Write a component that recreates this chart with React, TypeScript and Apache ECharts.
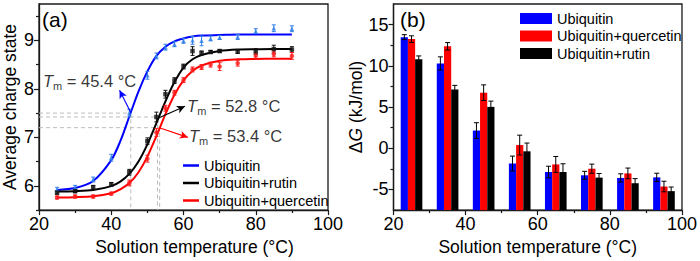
import React, { useEffect, useRef } from "react";
import * as echarts from "echarts";

// ---------- Panel (a): average charge state ----------
const tempPoints = [25, 30, 35, 40, 45, 50, 52.5, 55, 57.5, 60, 62.5, 65, 67.5, 70, 75, 80, 85, 90];
const ubiPoints = [5.93, 5.97, 6.13, 6.58, 7.5, 8.28, 8.68, 8.86, 8.92, 8.99, 9.0, 8.99, 9.04, 9.06, 9.07, 9.19, 9.25, 9.24];
const ubiPointErr = [0.04, 0.04, 0.05, 0.07, 0.08, 0.08, 0.06, 0.06, 0.05, 0.05, 0.08, 0.1, 0.05, 0.04, 0.05, 0.05, 0.07, 0.06];
const rutinPoints = [5.86, 5.89, 5.97, 6.03, 6.28, 6.92, 7.42, 7.89, 8.17, 8.46, 8.78, 8.74, 8.76, 8.78, 8.77, 8.77, 8.82, 8.81];
const rutinPointErr = [0.03, 0.03, 0.04, 0.04, 0.06, 0.07, 0.1, 0.08, 0.06, 0.05, 0.09, 0.04, 0.03, 0.03, 0.04, 0.06, 0.08, 0.06];
const quercPoints = [5.76, 5.78, 5.78, 5.84, 6.06, 6.56, 7.1, 7.6, 7.92, 8.18, 8.4, 8.45, 8.5, 8.46, 8.53, 8.68, 8.72, 8.68];
const quercPointErr = [0.03, 0.03, 0.03, 0.03, 0.06, 0.07, 0.08, 0.06, 0.05, 0.05, 0.05, 0.05, 0.05, 0.08, 0.06, 0.06, 0.06, 0.07];

const tempCurve = [25, 30, 35, 40, 42.5, 45, 47.5, 50, 52.5, 55, 57.5, 60, 62.5, 65, 70, 75, 80, 85, 90];
const ubiCurve = [5.915, 5.955, 6.1, 6.53, 6.92, 7.43, 7.94, 8.36, 8.68, 8.87, 8.98, 9.04, 9.08, 9.1, 9.11, 9.12, 9.12, 9.12, 9.12];
const rutinCurve = [5.883, 5.89, 5.914, 5.995, 6.088, 6.246, 6.497, 6.855, 7.295, 7.744, 8.14, 8.44, 8.61, 8.7, 8.78, 8.81, 8.816, 8.82, 8.82];
const quercCurve = [5.76, 5.767, 5.785, 5.849, 5.925, 6.057, 6.276, 6.603, 7.026, 7.479, 7.879, 8.175, 8.367, 8.481, 8.58, 8.609, 8.617, 8.62, 8.62];

const seriesNamesA = ["Ubiquitin", "Ubiquitin+rutin", "Ubiquitin+quercetin"];
const tmValues = [45.4, 52.8, 53.4];
const tmMidLevels = [7.5, 7.42, 7.2];
const tmLabels = ["45.4 °C", "52.8 °C", "53.4 °C"];

// ---------- Panel (b): ΔG ----------
const tempBars = [25, 35, 45, 55, 65, 75, 85, 95];
const seriesNamesB = ["Ubiquitin", "Ubiquitin+quercetin", "Ubiquitin+rutin"];
const dgUbi = [13.48, 10.29, 2.15, -1.85, -2.88, -3.28, -3.6, -3.53];
const dgUbiErr = [0.3, 0.8, 0.95, 0.9, 0.7, 0.48, 0.5, 0.5];
const dgQuerc = [13.24, 12.37, 6.74, 0.39, -1.96, -2.48, -3.05, -4.64];
const dgQuercErr = [0.4, 0.45, 0.95, 1.2, 0.96, 0.56, 0.65, 0.64];
const dgRutin = [10.8, 7.13, 5.02, -0.37, -2.88, -3.56, -4.24, -5.2];
const dgRutinErr = [0.4, 0.5, 0.7, 1.0, 1.0, 0.5, 0.56, 0.5];

const xTickLabels = [20, 40, 60, 80, 100];
const yTickLabelsA = [6, 7, 8, 9];
const yMinorTicksA = [5.5, 6.5, 7.5, 8.5, 9.5];
const yTickLabelsB = [-5, 0, 5, 10, 15];
const yMinorTicksB = [-2.5, 2.5, 7.5, 12.5];

// ---------- styles / layout ----------
const FONT = "'Liberation Sans', Arial, Helvetica, sans-serif";
const AXIS_COLOR = "#1a1a1a";
const COLORS_A = ["#0000ff", "#000000", "#ff0000"];
const POINT_COLORS_A = ["#2f7fe8", "#111111", "#ff1a1a"];
const POINT_SYMBOLS_A = ["triangle", "rect", "circle"];
const COLORS_B = ["#0000ff", "#ff0000", "#000000"];
const BAR_OFFSETS = [-2, 0, 2];
const BAR_HALF = 1;
const YA_MIN = 5.5;
const YA_MAX = 9.75;
const YB_MIN = -7.5;
const YB_MAX = 17.5;

// annotation anchors (data space) and arrow segments
const annoPos = [
  [21.1, 8.17],
  [61.0, 7.64],
  [61.5, 7.02],
];
const arrowSeg = [
  [[45.3, 7.53], [42.3, 7.97]],
  [[53.1, 7.4], [60.4, 7.64]],
  [[53.3, 7.2], [61.2, 7.0]],
];

const zip = (xs: number[], ys: number[]) => xs.map((x, i) => [x, ys[i]]);
const zip3 = (xs: number[], ys: number[], es: number[]) => xs.map((x, i) => [x, ys[i], es[i]]);

function buildOption(): any {
  const pointsA = [ubiPoints, rutinPoints, quercPoints];
  const errA = [ubiPointErr, rutinPointErr, quercPointErr];
  const curvesA = [ubiCurve, rutinCurve, quercCurve];
  const barsB = [dgUbi, dgQuerc, dgRutin];
  const errB = [dgUbiErr, dgQuercErr, dgRutinErr];

  const axisLine = { show: true, onZero: false, lineStyle: { color: AXIS_COLOR, width: 1.3 } };
  const axisLabel = { color: "#000", fontSize: 18, fontFamily: FONT };
  const nameStyle = { color: "#000", fontSize: 17.5, fontFamily: FONT };

  const xAxisBase = (gridIndex: number, shift: number) => ({
    type: "value",
    gridIndex,
    min: 20,
    max: 100,
    interval: 20,
    position: "bottom",
    axisLine,
    axisTick: { show: true, length: 5, lineStyle: { color: AXIS_COLOR, width: 1.2 } },
    minorTick: { show: true, splitNumber: 2, length: 3, lineStyle: { color: AXIS_COLOR, width: 1.2 } },
    axisLabel: { ...axisLabel, margin: 5, customValues: xTickLabels },
    splitLine: { show: false },
    name: "Solution temperature (°C)",
    nameLocation: "middle",
    nameGap: 25,
    nameTextStyle: { ...nameStyle, padding: [0, 0, 0, shift] },
  });

  const minorY = (gridIndex: number, min: number, max: number, vals: number[]) => ({
    type: "value",
    gridIndex,
    min,
    max,
    position: "left",
    offset: 0,
    axisLine: { show: false, onZero: false },
    axisLabel: { show: false },
    splitLine: { show: false },
    axisTick: { show: true, length: 3, customValues: vals, lineStyle: { color: AXIS_COLOR, width: 1.2 } },
  });

  const series: any[] = [];

  // guide dashed lines (a)
  tmValues.forEach((tm, i) => {
    series.push({
      type: "line",
      xAxisIndex: 0,
      yAxisIndex: 0,
      silent: true,
      symbol: "none",
      data: [
        [20, tmMidLevels[i]],
        [tm, tmMidLevels[i]],
        [tm, YA_MIN],
      ],
      lineStyle: { color: "#bdbdbd", width: 1, type: [4, 3] },
      z: 1,
    });
  });

  // fitted curves (a)
  curvesA.forEach((c, i) => {
    series.push({
      name: seriesNamesA[i],
      type: "line",
      xAxisIndex: 0,
      yAxisIndex: 0,
      smooth: 0.3,
      symbol: "none",
      color: COLORS_A[i],
      data: zip(tempCurve, c),
      lineStyle: { color: COLORS_A[i], width: 2 },
      z: 3,
    });
  });

  // points + error bars (a)
  pointsA.forEach((p, i) => {
    series.push({
      name: "pts" + i,
      type: "scatter",
      xAxisIndex: 0,
      yAxisIndex: 0,
      symbol: POINT_SYMBOLS_A[i],
      symbolSize: 4.5,
      itemStyle: { color: POINT_COLORS_A[i] },
      data: zip(tempPoints, p),
      z: 4,
    });
    series.push({
      name: "err" + i,
      type: "custom",
      xAxisIndex: 0,
      yAxisIndex: 0,
      data: zip3(tempPoints, p, errA[i]),
      z: 4,
      renderItem: (params: any, api: any) => {
        const x = api.value(0);
        const y = api.value(1);
        const e = api.value(2);
        const top = api.coord([x, y + e]);
        const bot = api.coord([x, y - e]);
        const st = { stroke: POINT_COLORS_A[i], lineWidth: 1 };
        return {
          type: "group",
          children: [
            { type: "line", shape: { x1: top[0], y1: top[1], x2: bot[0], y2: bot[1] }, style: st },
            { type: "line", shape: { x1: top[0] - 2, y1: top[1], x2: top[0] + 2, y2: top[1] }, style: st },
            { type: "line", shape: { x1: bot[0] - 2, y1: bot[1], x2: bot[0] + 2, y2: bot[1] }, style: st },
          ],
        };
      },
    });
  });

  // Tm annotations with arrows (a)
  tmLabels.forEach((lab, i) => {
    series.push({
      name: "anno" + i,
      type: "scatter",
      xAxisIndex: 0,
      yAxisIndex: 0,
      symbolSize: 0,
      silent: true,
      data: [annoPos[i]],
      z: 6,
      label: {
        show: true,
        position: "right",
        distance: 0,
        formatter: "{t|T}{s|m}{n| = " + lab + "}",
        rich: {
          t: { fontSize: 16.5, fontStyle: "italic", fontFamily: FONT, color: "#000" },
          s: { fontSize: 11, fontFamily: FONT, color: "#000", padding: [10, 0, 0, 0] },
          n: { fontSize: 16.5, fontFamily: FONT, color: "#000" },
        },
      },
      markLine: {
        silent: true,
        symbol: ["none", "arrow"],
        symbolSize: [6, 8],
        label: { show: false },
        lineStyle: { color: COLORS_A[i], width: 1.1, type: "solid" },
        data: [[{ coord: arrowSeg[i][0] }, { coord: arrowSeg[i][1] }]],
      },
    });
  });

  // bars + error bars (b)
  barsB.forEach((vals, i) => {
    series.push({
      name: "dG" + seriesNamesB[i],
      type: "custom",
      xAxisIndex: 1,
      yAxisIndex: 2,
      itemStyle: { color: COLORS_B[i] },
      data: zip3(tempBars.map((t) => t + BAR_OFFSETS[i]), vals, errB[i]),
      z: 3,
      renderItem: (params: any, api: any) => {
        const x = api.value(0);
        const v = api.value(1);
        const e = api.value(2);
        const p0 = api.coord([x - BAR_HALF, YB_MIN]);
        const p1 = api.coord([x + BAR_HALF, v]);
        const top = api.coord([x, v + e]);
        const bot = api.coord([x, v - e]);
        const st = { stroke: "#000", lineWidth: 1 };
        return {
          type: "group",
          children: [
            {
              type: "rect",
              shape: { x: p0[0], y: p1[1], width: p1[0] - p0[0], height: p0[1] - p1[1] },
              style: { fill: COLORS_B[i] },
            },
            { type: "line", shape: { x1: top[0], y1: top[1], x2: bot[0], y2: bot[1] }, style: st },
            { type: "line", shape: { x1: top[0] - 2.5, y1: top[1], x2: top[0] + 2.5, y2: top[1] }, style: st },
            { type: "line", shape: { x1: bot[0] - 2.5, y1: bot[1], x2: bot[0] + 2.5, y2: bot[1] }, style: st },
          ],
        };
      },
    });
  });

  return {
    animation: false,
    backgroundColor: "#ffffff",
    textStyle: { fontFamily: FONT },
    title: [
      { text: "(a)", left: 42, top: 9, padding: 0, textStyle: { fontSize: 21, fontWeight: "normal", color: "#000", fontFamily: FONT } },
      { text: "(b)", left: 400, top: 9, padding: 0, textStyle: { fontSize: 21, fontWeight: "normal", color: "#000", fontFamily: FONT } },
    ],
    legend: [
      {
        data: seriesNamesA,
        orient: "vertical",
        left: 183,
        top: 158,
        padding: 0,
        itemGap: 2.5,
        itemWidth: 16,
        itemHeight: 2.5,
        icon: "rect",
        selectedMode: false,
        textStyle: { fontSize: 14.5, color: "#000", fontFamily: FONT },
      },
      {
        data: seriesNamesB.map((n) => "dG" + n),
        formatter: (n: string) => n.replace(/^dG/, ""),
        orient: "vertical",
        left: 520,
        top: 11,
        padding: 0,
        itemGap: 2.5,
        itemWidth: 32,
        itemHeight: 11,
        icon: "rect",
        selectedMode: false,
        textStyle: { fontSize: 14.5, color: "#000", fontFamily: FONT },
      },
    ],
    grid: [
      { left: 38, top: 4, width: 290, height: 209, show: true, borderColor: AXIS_COLOR, borderWidth: 1.3, backgroundColor: "transparent" },
      { left: 393.5, top: 4, width: 290, height: 209, show: true, borderColor: AXIS_COLOR, borderWidth: 1.3, backgroundColor: "transparent" },
    ],
    xAxis: [xAxisBase(0, 22), xAxisBase(1, 0)],
    yAxis: [
      {
        type: "value",
        gridIndex: 0,
        min: YA_MIN,
        max: YA_MAX,
        position: "left",
        axisLine,
        axisTick: { show: true, length: 5, customValues: yTickLabelsA, lineStyle: { color: AXIS_COLOR, width: 1.2 } },
        axisLabel: { ...axisLabel, margin: 5, customValues: yTickLabelsA },
        splitLine: { show: false },
        name: "Average charge state",
        nameLocation: "middle",
        nameGap: 20,
        nameTextStyle: nameStyle,
      },
      minorY(0, YA_MIN, YA_MAX, yMinorTicksA),
      {
        type: "value",
        gridIndex: 1,
        min: YB_MIN,
        max: YB_MAX,
        position: "left",
        axisLine,
        axisTick: { show: true, length: 5, customValues: yTickLabelsB, lineStyle: { color: AXIS_COLOR, width: 1.2 } },
        axisLabel: { ...axisLabel, margin: 5, customValues: yTickLabelsB },
        splitLine: { show: false },
        name: "{d|Δ}{g|G}{d| (kJ/mol)}",
        nameLocation: "middle",
        nameGap: 23,
        nameTextStyle: {
          ...nameStyle,
          rich: {
            d: { fontSize: 17.5, fontFamily: FONT, color: "#000" },
            g: { fontSize: 17.5, fontFamily: FONT, color: "#000", fontStyle: "italic" },
          },
        },
      },
      minorY(1, YB_MIN, YB_MAX, yMinorTicksB),
    ],
    series,
  };
}

export default function App() {
  const ref = useRef<HTMLDivElement>(null);
  useEffect(() => {
    if (!ref.current) return;
    const chart = echarts.init(ref.current, null, { renderer: "svg" });
    chart.setOption(buildOption());
    return () => chart.dispose();
  }, []);
  return (
    <div
      ref={ref}
      style={{ position: "absolute", left: 0, top: 0, width: 700, height: 261, background: "#fff" }}
    />
  );
}
